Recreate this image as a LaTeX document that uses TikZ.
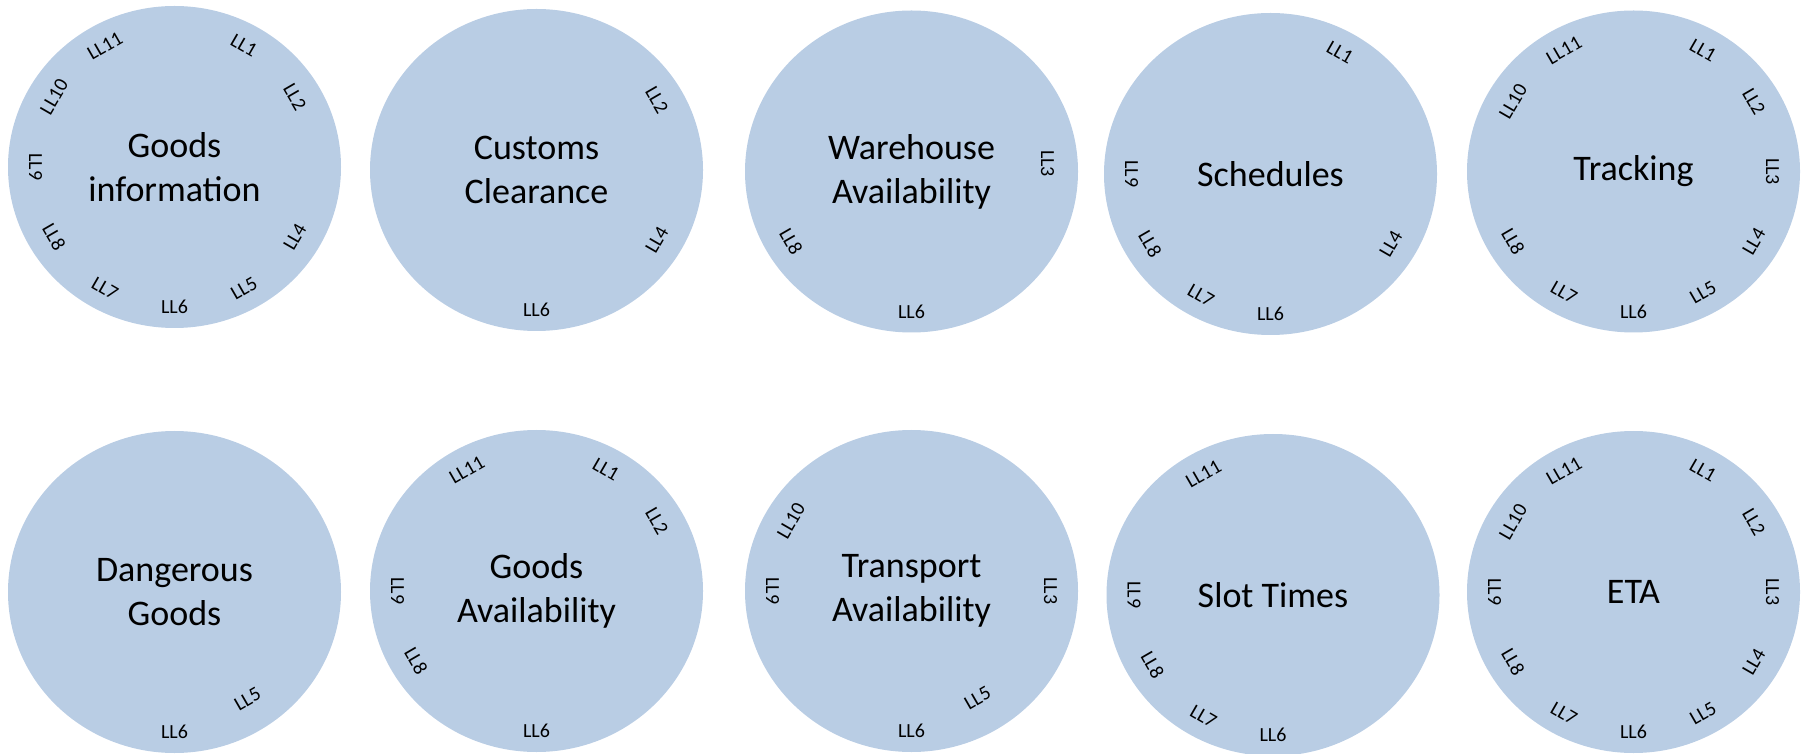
\documentclass[tikz,border=0pt]{standalone}
\usepackage{fontspec}
\setmainfont{Carlito}
\definecolor{bubblefill}{RGB}{185,205,228}
\tikzset{
  bubble/.style={fill=bubblefill},
  title/.style={font=\fontsize{36}{44}\selectfont, align=center, text=black, inner sep=0pt},
  lbl/.style={font=\fontsize{20}{24}\selectfont, inner sep=0pt, text=black}
}
\newcommand{\mybubble}[3]{% name, x, y
  \coordinate (#1) at (#2,#3);
  \fill[bubble] (#1) ellipse [x radius=166.5, y radius=161];
}
\newcommand{\bubblelabels}[2]{%
  \foreach \k in {#2} {%
    \pgfmathsetmacro{\rot}{Mod(90-30*\k,180)-90}%
    \node[lbl, rotate=\rot] (#1-ll\k) at ([shift={({139*cos(90-30*\k)},{140*sin(90-30*\k)})}]#1) {LL\k};
  }}
\newcommand{\onelabel}[4]{% circle, k, dx, dy
  \pgfmathsetmacro{\rot}{Mod(90-30*#2,180)-90}%
  \node[lbl, rotate=\rot] (#1-ll#2) at ([shift={(#3,#4)}]#1) {LL#2};
}
\begin{document}
\begin{tikzpicture}[x=1pt,y=1pt]
\useasboundingbox (0,0) rectangle (1806,753);
% top row
\mybubble{c1}{174.5}{586}
\node[title] (t1) at (c1) {Goods\\information};
\bubblelabels{c1}{1,2,4,5,6,7,8,9,10,11}
\mybubble{c2}{536.5}{583}
\node[title] (t2) at (c2) {Customs\\Clearance};
\bubblelabels{c2}{2,4,6}
\mybubble{c3}{911.5}{581.5}
\node[title] (t3) at (c3) {Warehouse\\Availability};
\bubblelabels{c3}{6,8}
\onelabel{c3}{3}{136}{8}
\mybubble{c4}{1270.5}{579}
\node[title] (t4) at (c4) {Schedules};
\bubblelabels{c4}{1,4,6,7,8,9}
\mybubble{c5}{1633.5}{581.5}
\node[title] (t5) at (c5) {Tracking};
\bubblelabels{c5}{1,2,3,4,5,6,7,8,10,11}
% bottom row
\mybubble{c6}{174.5}{161}
\node[title] (t6) at (c6) {Dangerous\\Goods};
\bubblelabels{c6}{6}
\onelabel{c6}{5}{73}{-107}
\mybubble{c7}{536.5}{162}
\node[title] (t7) at (c7) {Goods\\Availability};
\bubblelabels{c7}{1,2,6,8,9,11}
\mybubble{c8}{911.5}{162}
\node[title] (t8) at (c8) {Transport\\Availability};
\bubblelabels{c8}{3,6,9,10}
\onelabel{c8}{5}{66}{-107}
\mybubble{c9}{1273}{158}
\node[title] (t9) at (c9) {Slot Times};
\bubblelabels{c9}{6,7,8,9,11}
\mybubble{c10}{1633.5}{161}
\node[title] (t10) at (c10) {ETA};
\bubblelabels{c10}{1,2,3,4,5,6,7,8,9,10,11}
\end{tikzpicture}
\end{document}
